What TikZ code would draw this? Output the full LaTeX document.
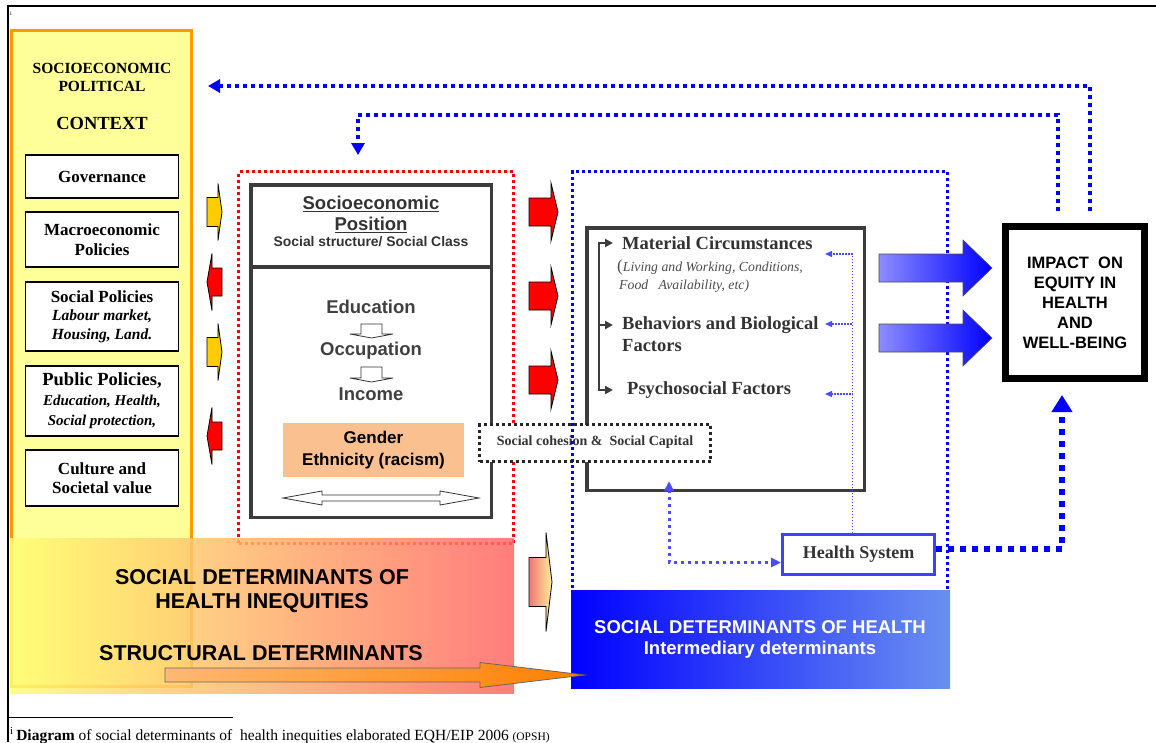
\documentclass[tikz,border=0pt]{standalone}
\usepackage{fontspec}
\setmainfont{Liberation Serif}
\setsansfont{Liberation Sans}
\usetikzlibrary{arrows.meta}
\definecolor{ctxyellow}{HTML}{FFFF99}
\definecolor{ctxorange}{HTML}{FF9900}
\definecolor{gold}{HTML}{FFCC00}
\definecolor{peach}{HTML}{FAC090}
\definecolor{txtgray}{HTML}{333333}
\definecolor{boxgray}{HTML}{3C3C3C}
\definecolor{ltblue}{HTML}{6A90F0}
\definecolor{salmon}{HTML}{EE7777}
\definecolor{lightyel}{HTML}{FFEE99}
\newcommand{\fsz}[2]{\fontsize{#1}{#2}\selectfont}
% block arrow: options, body length, body half height, head length, head half height
\newcommand{\blockarr}[5]{\path[#1] (0,-#3) -- (#2,-#3) -- (#2,-#5) -- ({#2+#4},0) -- (#2,#5) -- (#2,#3) -- (0,#3) -- cycle;}
\tikzset{%
  fbtip/.tip={Triangle[width=13pt,length=12pt]},
  bigtip/.tip={Triangle[width=20pt,length=17pt]},
  midtip/.tip={Triangle[width=9pt,length=10pt]},
  thintip/.tip={Triangle[width=6pt,length=7pt]},
  brktip/.tip={Triangle[width=8pt,length=8pt]},
  fbline/.style={draw=blue, line width=4pt, dash pattern=on 4pt off 4pt},
  hsline/.style={draw=blue, line width=6pt, dash pattern=on 6pt off 6pt},
  reddots/.style={draw=red, line width=3pt, dash pattern=on 3pt off 3pt},
  bluedots/.style={draw=blue, line width=3pt, dash pattern=on 3pt off 3pt},
  blackdots/.style={draw=black!85, line width=3pt, dash pattern=on 3pt off 3pt},
  thinblue/.style={draw=blue!70, line width=1.4pt, dash pattern=on 1.5pt off 1.5pt},
  medblue/.style={draw=blue!70, line width=3pt, dash pattern=on 3pt off 4pt},
  brk/.style={draw=boxgray, line width=2.2pt},
  greybox/.style={draw=boxgray, line width=3.5pt, inner sep=0pt},
  polbox/.style={draw=black, line width=1.2pt, fill=white, inner sep=0pt, minimum width=153, align=center, font=\fsz{17}{19.5}\bfseries},
  sestxt/.style={inner sep=0pt, text=txtgray, font=\sffamily\bfseries\fsz{18.5}{21}},
  rtxt/.style={inner sep=0pt, inner xsep=9pt, anchor=west, text=txtgray, font=\bfseries\fsz{18.5}{21}},
  sdtxt/.style={inner sep=0pt, align=center, font=\sffamily\bfseries\fsz{21.5}{24}},
}
\begin{document}
\begin{tikzpicture}[x=1pt,y=-1pt]
\useasboundingbox (0,0) rectangle (1156,742);

% frame
\draw[line width=2pt] (1156,6) -- (8,6) -- (8,742);
\node[inner sep=0pt, font=\fsz{6}{6}] (mk) at (11,14) {i};

% context column
\node[draw=ctxorange, line width=3pt, fill=ctxyellow, minimum width=180, minimum height=656, inner sep=0pt] (ctx) at (101.5,358.5) {};
\node[inner sep=0pt, align=center, font=\fsz{15.5}{18}\bfseries] (ctxa) at (102,77) {SOCIOECONOMIC\\POLITICAL};
\node[inner sep=0pt, font=\fsz{18.5}{20}\bfseries] (ctxb) at (102,123) {CONTEXT};
\node[polbox, minimum height=43] (gov) at (102,176.5) {Governance};
\node[polbox, minimum height=55] (mac) at (102,239.5) {Macroeconomic\\Policies};
\node[polbox, minimum height=69, font=\fsz{17}{18.5}\bfseries] (soc) at (102,316.5) {Social Policies\\{\itshape\fsz{15.5}{18.5}Labour market,}\\{\itshape\fsz{15.5}{18.5}Housing, Land.}};
\node[polbox, minimum height=70, font=\fsz{18.5}{20}\bfseries] (pub) at (102,401) {Public Policies,\\{\itshape\fsz{15}{20}Education, Health,}\\{\itshape\fsz{15}{20}Social protection,}};
\node[polbox, minimum height=56] (cul) at (102,478) {Culture and\\Societal value};

% structural determinants
\node[reddots, minimum width=275, minimum height=372, inner sep=0pt] (rdb) at (376,357.5) {};
\node[greybox, minimum width=240.5, minimum height=81.5] (sestop) at (371,225.5) {};
\node[greybox, minimum width=240.5, minimum height=250.5] (sesbody) at (371,392) {};
\node[sestxt] (sesa) at (371,204) {\underline{Socioeconomic}};
\node[sestxt] (sesb) at (371,225) {\underline{Position}};
\node[sestxt, font=\sffamily\bfseries\fsz{13.9}{15}] (sesc) at (371,242) {Social structure/ Social Class};
\node[sestxt, text=black!75] (edu) at (371,307) {Education};
\node[sestxt, text=black!75] (occ) at (371,351) {Occupation};
\node[sestxt, text=black!75] (inc) at (371,394) {Income};
\blockarr{draw=txtgray, fill=white, line width=0.8pt, shift={(371.5,324)}, rotate=-90}{10}{10.5}{4}{21.5}
\blockarr{draw=txtgray, fill=white, line width=0.8pt, shift={(371.5,367)}, rotate=-90}{11}{10.5}{4}{21.5}
\node[fill=peach, minimum width=181, minimum height=54, inner sep=0pt, align=center, font=\sffamily\bfseries\fsz{17}{22}] (gen) at (373.5,450) {Gender\\Ethnicity (racism)};
\draw[draw=txtgray, fill=white, line width=0.8pt] (283,498) -- (322,491) -- (322,495) -- (440,495) -- (440,491) -- (479,498) -- (440,505) -- (440,501) -- (322,501) -- (322,505) -- cycle;

% intermediary determinants
\node[greybox, minimum width=277.5, minimum height=262.5] (irb) at (725.5,359) {};
\node[rtxt] (mat) at (613,243) {Material Circumstances};
\node[inner sep=0pt, anchor=west, align=left, text=black!70, font=\itshape\fsz{13.8}{18}] (matsub) at (617,276) {{\upshape\fsz{17}{18}(}Living and Working, Conditions,\\ \hspace{2pt}Food\ \ \ Availability, etc)};
\node[rtxt] (beh) at (613,325) {Behaviors and Biological};
\node[rtxt] (behf) at (613,346) {Factors};
\node[rtxt, inner xsep=14pt] (psy) at (613,390) {Psychosocial Factors};
\draw[brk, brktip-brktip] (mat.west) -- ++(-14,0) |- (psy.west);
\draw[brk, -brktip] ([xshift=-14pt]beh.west) -- (beh.west);

\node[blackdots, fill=white, minimum width=231, minimum height=37, inner sep=0pt, text=txtgray, font=\bfseries\fsz{14}{14}] (scb) at (595,443) {\raisebox{5pt}{Social cohesion \&\ \ Social Capital}};
\node[bluedots, minimum width=375, minimum height=426.5, inner sep=0pt] (idb) at (760,384.75) {};

\node[draw=blue!75, line width=3pt, fill=white, minimum width=152, minimum height=40, inner sep=0pt, text=txtgray, font=\bfseries\fsz{18}{18}] (hs) at (858.5,554.5) {Health System};
\coordinate (matin) at (825,254);
\coordinate (behin) at (825,324);
\coordinate (psyin) at (825,394);
\coordinate (irbin) at (669,481);
\draw[thinblue, -thintip] ([xshift=-6pt]hs.north) |- (matin);
\draw[thinblue, -thintip] ([xshift=-6pt]hs.north) |- (behin);
\draw[thinblue, -thintip] ([xshift=-6pt]hs.north) |- (psyin);
\draw[medblue, midtip-midtip] (irbin) |- ([yshift=-8pt]hs.west);

% impact
\node[draw=black, line width=7pt, fill=white, minimum width=139, minimum height=152, inner sep=0pt, align=center, font=\sffamily\bfseries\fsz{16.5}{20}] (imp) at (1075,302.5) {IMPACT\ \ ON\\EQUITY IN\\HEALTH\\AND\\WELL-BEING};
\blockarr{draw=black!70, line width=0.6pt, left color=blue!45, right color=blue, shift={(879,268)}}{84}{14}{29}{28}
\blockarr{draw=black!70, line width=0.6pt, left color=blue!45, right color=blue, shift={(879,338)}}{84}{14}{29}{28}
\draw[hsline, -bigtip] ([yshift=6pt]hs.east) -| ([xshift=-13pt,yshift=-13pt]imp.south);

% feedback
\coordinate (ctxin) at (208,86);
\coordinate (rdbin) at (358,155);
\draw[fbline, -fbtip] ([xshift=15pt,yshift=12pt]imp.north) |- (ctxin);
\draw[fbline, -fbtip] ([xshift=-17pt,yshift=12pt]imp.north) -- ++(0,-96) -| (rdbin);

% small arrows
\blockarr{draw=black, line width=0.8pt, fill=gold, shift={(207,212)}}{11}{14.5}{4}{28.5}
\blockarr{draw=black, line width=0.8pt, fill=red, shift={(222,282)}, xscale=-1}{10}{14}{5}{28.5}
\blockarr{draw=black, line width=0.8pt, fill=gold, shift={(207,352)}}{11}{14.5}{4}{28.5}
\blockarr{draw=black, line width=0.8pt, fill=red, shift={(222,436)}, xscale=-1}{10}{14}{5}{28.5}
\blockarr{draw=black, line width=0.8pt, fill=red, shift={(529,212)}}{22}{14}{7}{29}
\blockarr{draw=black, line width=0.8pt, fill=red, shift={(529,296)}}{22}{14}{7}{29}
\blockarr{draw=black, line width=0.8pt, fill=red, shift={(529,380)}}{22}{14}{7}{29}
\blockarr{draw=black, line width=0.8pt, left color=salmon, right color=lightyel, shift={(529,582)}}{17}{24.5}{6}{49.5}

% bottom bands
\node[inner sep=0pt, minimum width=504, minimum height=155, left color=yellow!55, middle color=orange!40, right color=red!60, fill opacity=0.85] (sdhi) at (262,615.5) {};
\node[sdtxt] (sdhia) at (262,591) {SOCIAL DETERMINANTS OF\\HEALTH INEQUITIES};
\node[sdtxt] (sdhib) at (261,653) {STRUCTURAL DETERMINANTS};
\node[inner sep=0pt, minimum width=379, minimum height=98, left color=blue, right color=ltblue] (sdh) at (760.5,639) {};
\node[inner sep=0pt, align=center, text=white, font=\sffamily\bfseries\fsz{18.5}{21}] (sdha) at (760,639.5) {SOCIAL DETERMINANTS OF HEALTH\\Intermediary determinants};
\blockarr{draw=black!60, line width=0.8pt, left color=orange!55, right color=orange, shift={(165,675)}}{315}{7}{105}{12.5}

% footnote
\draw[line width=0.8pt] (8,717) -- (233,717);
\node[anchor=base west, inner sep=0pt, font=\fsz{15.5}{16}] (fn) at (10,740) {\textsuperscript{i}\,\textbf{Diagram} of social determinants of\ \ health inequities elaborated EQH/EIP 2006 {\fsz{11.5}{12}(OPSH)}};
\end{tikzpicture}
\end{document}
